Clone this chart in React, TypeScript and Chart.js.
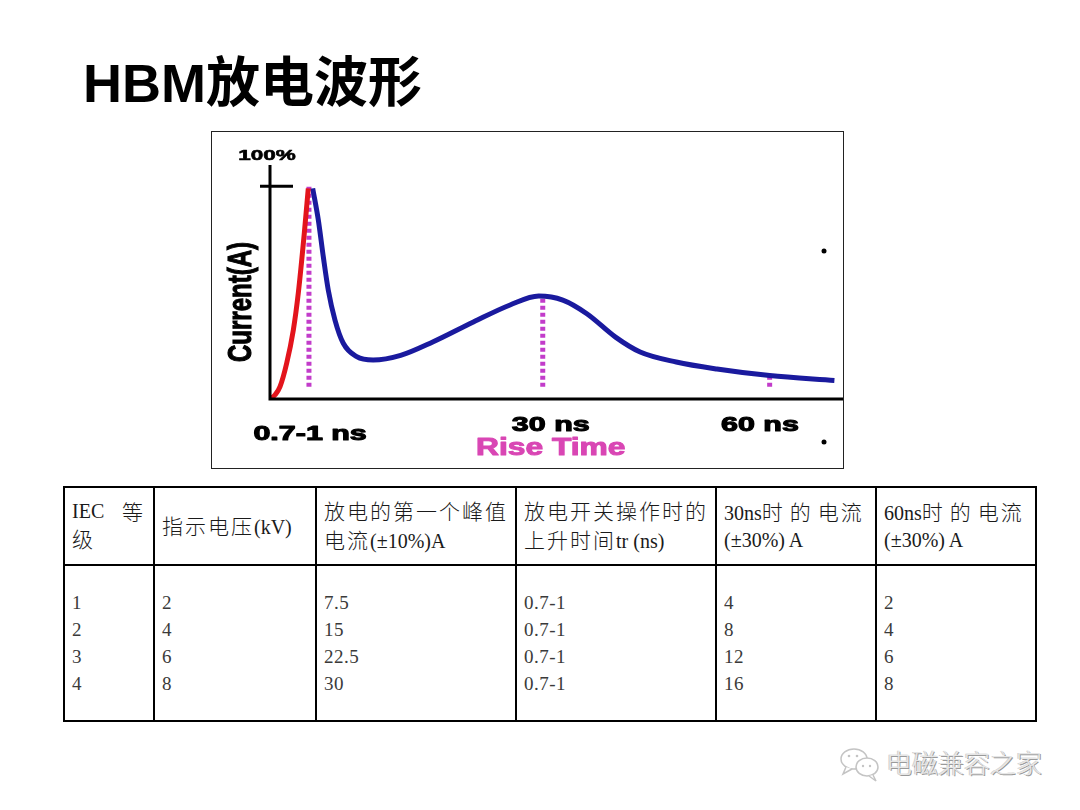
import React, { useEffect, useRef } from 'react';
import { Chart, registerables } from 'chart.js';
Chart.register(...registerables);

// Waveform (x: relative time position 0..100 along the axis, y: fraction of peak current)
const riseX = [0, 0.9, 1.75, 2.91, 4.07, 4.94, 5.99, 6.68];
const riseY = [0, 0.02, 0.058, 0.168, 0.324, 0.498, 0.78, 0.99];
const decayX = [7.45, 8.43, 9.3, 10.17, 11.34, 12.79, 15.13, 18.0, 22.8, 28.4, 35.5, 41.9, 46.9, 51.1, 55.3, 60.3, 64.6, 70.9, 78.0, 87.2, 98.5];
const decayY = [0.99, 0.842, 0.669, 0.512, 0.371, 0.262, 0.199, 0.183, 0.205, 0.268, 0.362, 0.442, 0.484, 0.465, 0.401, 0.291, 0.221, 0.174, 0.141, 0.11, 0.087];
const markerX = [6.8, 47.6, 87.2];
const markerTop = [1.0, 0.484, 0.11];
const markerBase = 0.058;
const tickLabels = ['0.7-1 ns', '30 ns', '60 ns'];
const tickPos = [7, 49, 85.5];
const axisTitleX = 'Rise Time';
const axisTitleY = 'Current(A)';
const peakLabel = '100%';

// Table
const headers = [
  ['IEC 等', '级'],
  ['指示电压(kV)'],
  ['放电的第一个峰值', '电流(±10%)A'],
  ['放电开关操作时的', '上升时间tr (ns)'],
  ['30ns时 的 电流', '(±30%) A'],
  ['60ns时 的 电流', '(±30%) A'],
];
const levels = ['1', '2', '3', '4'];
const voltages = ['2', '4', '6', '8'];
const peakCurrent = ['7.5', '15', '22.5', '30'];
const riseTime = ['0.7-1', '0.7-1', '0.7-1', '0.7-1'];
const current30 = ['4', '8', '12', '16'];
const current60 = ['2', '4', '6', '8'];
const colWidths = [90, 162, 200, 200, 160, 160];

function stretchText(ctx: CanvasRenderingContext2D, text: string, cx: number, cy: number, sx: number, font: string, color: string, stroke = 0) {
  ctx.save();
  ctx.translate(cx, cy);
  ctx.scale(sx, 1);
  ctx.font = font;
  ctx.fillStyle = color;
  ctx.textAlign = 'center';
  ctx.textBaseline = 'alphabetic';
  ctx.fillText(text, 0, 0);
  if (stroke > 0) {
    ctx.strokeStyle = color;
    ctx.lineWidth = stroke;
    ctx.lineJoin = 'round';
    ctx.strokeText(text, 0, 0);
  }
  ctx.restore();
}

const overlay = {
  id: 'overlay',
  afterDraw(chart: any) {
    const { ctx, chartArea: a, scales } = chart;
    const x = scales.x;
    const y = scales.y;
    ctx.save();
    ctx.strokeStyle = '#000';
    ctx.lineWidth = 3;
    ctx.lineCap = 'butt';
    ctx.beginPath();
    ctx.moveTo(a.left, a.top);
    ctx.lineTo(a.left, a.bottom + 1.5);
    ctx.moveTo(a.left, a.bottom);
    ctx.lineTo(chart.width, a.bottom);
    const y100 = y.getPixelForValue(1);
    ctx.moveTo(a.left - 10, y100);
    ctx.lineTo(a.left + 23, y100);
    ctx.stroke();

    const F = '"Liberation Sans", Arial, sans-serif';
    stretchText(ctx, peakLabel, a.left - 3, y100 - 26, 1.5, `bold 15px ${F}`, '#000', 0.6);
    tickLabels.forEach((t, i) => {
      const off = i === 0 ? 41 : 32;
      stretchText(ctx, t, x.getPixelForValue(tickPos[i]), a.bottom + off, 1.45, `bold 21px ${F}`, '#000', 1.1);
    });
    stretchText(ctx, axisTitleX, x.getPixelForValue(tickPos[1]), a.bottom + 56, 1.38, `bold 23px ${F}`, '#d946b4', 1.0);

    // rotated y title
    ctx.save();
    ctx.translate(a.left - 28, (a.top + a.bottom) / 2 + 20);
    ctx.rotate(-Math.PI / 2);
    ctx.scale(1, 1.4);
    ctx.font = `bold 24px ${F}`;
    ctx.fillStyle = '#000';
    ctx.strokeStyle = '#000';
    ctx.lineWidth = 0.8;
    ctx.textAlign = 'center';
    ctx.textBaseline = 'middle';
    ctx.fillText(axisTitleY, 0, 0);
    ctx.strokeText(axisTitleY, 0, 0);
    ctx.restore();

    // small dots
    ctx.fillStyle = '#000';
    [[chart.width - 19, 119], [chart.width - 19, 310]].forEach(([dx, dy]) => {
      ctx.beginPath();
      ctx.arc(dx, dy, 2.5, 0, Math.PI * 2);
      ctx.fill();
    });
    ctx.restore();
  },
};

function WaveChart() {
  const ref = useRef<HTMLCanvasElement>(null);
  useEffect(() => {
    if (!ref.current) return;
    const markers = markerX.map((mx, i) => ({
      type: 'line' as const,
      data: [{ x: mx, y: markerBase }, { x: mx, y: markerTop[i] }],
      borderColor: '#c23cca',
      borderWidth: 5,
      borderDash: [4, 3],
      pointRadius: 0,
      order: 2,
    }));
    const chart = new Chart(ref.current, {
      type: 'line',
      data: {
        datasets: [
          {
            data: riseX.map((v, i) => ({ x: v, y: riseY[i] })),
            borderColor: '#e3141c',
            borderWidth: 5,
            pointRadius: 0,
            cubicInterpolationMode: 'monotone',
            order: 0,
          },
          {
            data: decayX.map((v, i) => ({ x: v, y: decayY[i] })),
            borderColor: '#1a1a9e',
            borderWidth: 5,
            pointRadius: 0,
            cubicInterpolationMode: 'monotone',
            order: 0,
          },
          ...markers,
        ],
      },
      options: {
        responsive: false,
        maintainAspectRatio: false,
        animation: false,
        layout: { padding: { left: 58, top: 33, bottom: 69, right: 0 } },
        plugins: { legend: { display: false }, tooltip: { enabled: false }, title: { display: false } },
        scales: {
          x: { type: 'linear', min: 0, max: 100, display: false },
          y: { type: 'linear', min: 0, max: 1.1, display: false },
        },
        elements: { line: { borderCapStyle: 'butt' } },
      } as any,
      plugins: [overlay],
    });
    return () => chart.destroy();
  }, []);
  return <canvas ref={ref} width={631} height={336} style={{ display: 'block' }} />;
}

// Render mixed CJK / Latin text with a slightly larger CJK size (like SimSun next to Times)
function Mixed({ text }: { text: string }) {
  const parts = text.split(/([\u3000-\u9fff]+)/).filter((p) => p.length > 0);
  return (
    <>
      {parts.map((p, i) =>
        /[\u3000-\u9fff]/.test(p) ? (
          <span key={i} style={{ fontFamily: '"Noto Sans CJK SC", sans-serif', fontWeight: 300, fontSize: 21, letterSpacing: 2 }}>
            {p}
          </span>
        ) : (
          <span key={i}>{p}</span>
        )
      )}
    </>
  );
}

export default function App() {
  const cellHead: React.CSSProperties = {
    border: '2px solid #000',
    padding: '0 6px 0 7px',
    verticalAlign: 'middle',
    textAlign: 'left',
    fontFamily: '"Liberation Serif", serif',
    fontSize: 20,
    lineHeight: '27px',
    color: '#1a1a1a',
    whiteSpace: 'pre',
  };
  const cellBody: React.CSSProperties = {
    border: '2px solid #000',
    padding: '0 0 0 7px',
    verticalAlign: 'middle',
    textAlign: 'left',
  };
  const columns = [levels, voltages, peakCurrent, riseTime, current30, current60];
  return (
    <div style={{ position: 'absolute', left: 0, top: 0, width: 1080, height: 810, background: '#fff', overflow: 'hidden' }}>
      <div
        style={{
          position: 'absolute',
          left: 83,
          top: 56,
          fontFamily: '"Liberation Sans", "Noto Sans CJK SC", sans-serif',
          fontWeight: 'bold',
          fontSize: 54,
          lineHeight: '54px',
          color: '#000',
          whiteSpace: 'nowrap',
        }}
      >
        HBM放电波形
      </div>
      <div style={{ position: 'absolute', left: 211, top: 131, width: 631, height: 336, border: '1px solid #222' }}>
        <WaveChart />
      </div>
      <table
        style={{
          position: 'absolute',
          left: 63,
          top: 486,
          width: 972,
          borderCollapse: 'collapse',
          tableLayout: 'fixed',
        }}
      >
        <colgroup>
          {colWidths.map((w, i) => (
            <col key={i} style={{ width: w }} />
          ))}
        </colgroup>
        <tbody>
          <tr style={{ height: 78 }}>
            {headers.map((h, i) => (
              <td key={i} style={cellHead}>
                {i === 0 ? (
                  <>
                    <div style={{ display: 'flex', justifyContent: 'space-between', paddingRight: 2 }}>
                      <span>IEC</span>
                      <Mixed text="等" />
                    </div>
                    <div>
                      <Mixed text={h[1]} />
                    </div>
                  </>
                ) : (
                  h.map((line, j) => (
                    <div key={j}>
                      <Mixed text={line} />
                    </div>
                  ))
                )}
              </td>
            ))}
          </tr>
          <tr style={{ height: 156 }}>
            {columns.map((col, i) => (
              <td key={i} style={cellBody}>
                {col.map((v, j) => (
                  <div
                    key={j}
                    style={{
                      fontFamily: '"Liberation Serif", serif',
                      fontSize: 19,
                      lineHeight: '27px',
                      height: 27,
                      color: '#3a3a3a',
                      letterSpacing: 0.5,
                      whiteSpace: 'pre',
                    }}
                  >
                    {v}
                  </div>
                ))}
              </td>
            ))}
          </tr>
        </tbody>
      </table>
      <svg style={{ position: 'absolute', left: 838, top: 744 }} width={44} height={40}>
        <ellipse cx={16} cy={15} rx={13} ry={10} fill="#fff" stroke="#c4c4c4" strokeWidth={1.5} />
        <path d="M8 23 L5 30 L14 25" fill="#fff" stroke="#c4c4c4" strokeWidth={1.5} />
        <ellipse cx={29} cy={23} rx={11} ry={9} fill="#fff" stroke="#c4c4c4" strokeWidth={1.5} />
        <path d="M35 31 L38 37 L31 32" fill="#fff" stroke="#c4c4c4" strokeWidth={1.5} />
        <circle cx={11} cy={12} r={1.3} fill="#c4c4c4" />
        <circle cx={19} cy={12} r={1.3} fill="#c4c4c4" />
        <circle cx={25} cy={22} r={1.2} fill="#c4c4c4" />
        <circle cx={32} cy={22} r={1.2} fill="#c4c4c4" />
      </svg>
      <div
        style={{
          position: 'absolute',
          left: 886,
          top: 746,
          fontFamily: '"Noto Sans CJK SC", sans-serif',
          fontSize: 26,
          fontWeight: 300,
          lineHeight: '32px',
          color: '#e6e6e6',
          textShadow: '1px 1px 0 #9a9a9a, -1px 0 0 #cfcfcf',
          whiteSpace: 'nowrap',
        }}
      >
        电磁兼容之家
      </div>
    </div>
  );
}
